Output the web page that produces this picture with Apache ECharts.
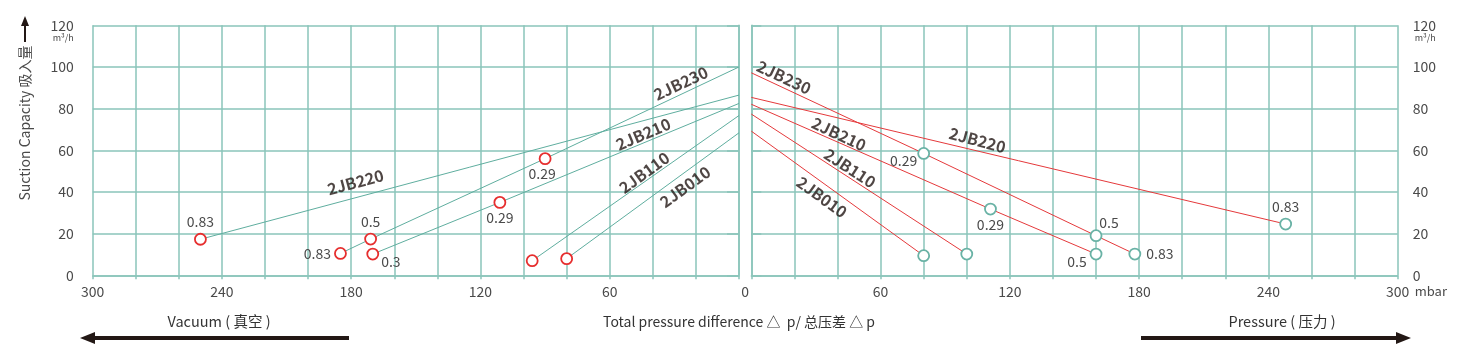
<!DOCTYPE html>
<html><head><meta charset="utf-8">
<script src="https://cdn.jsdelivr.net/npm/echarts@6/dist/echarts.min.js"></script>
<style>html,body{margin:0;padding:0;background:#fff;}#c{width:1460px;height:356px;}</style>
</head><body><div id="c"></div>
<script>
// ---- data ----
// vacuum side (left panel): [Δp mbar, capacity m³/h]
const vac230 = [[0,100],[90,56],[171,17.4],[185,10.5]];
const vac220 = [[0,86.5],[250,17.3]];
const vac210 = [[0,82.5],[111,35],[170,10.2]];
const vac110 = [[0,76.7],[96,7]];
const vac010 = [[0,68.4],[80,8]];
const vacPoints = [[90,56],[171,17.4],[185,10.5],[250,17.3],[111,35],[170,10.2],[96,7],[80,8]];
const vacPointLabels = ['0.29','0.5','0.83','0.83','0.29','0.3','',''];
// pressure side (right panel)
const press230 = [[0,97.2],[80,58.5],[160,19],[178,10.2]];
const press220 = [[0,85.4],[248,24.6]];
const press210 = [[0,82.1],[111,31.8],[160,10.2]];
const press110 = [[0,77.4],[100,10.2]];
const press010 = [[0,69.2],[80,9.4]];
const pressPoints = [[80,58.5],[160,19],[178,10.2],[248,24.6],[111,31.8],[160,10.2],[100,10.2],[80,9.4]];
const pressPointLabels = ['0.29','0.5','0.83','0.83','0.29','0.5','',''];
// model names and where they sit (data coords)
const modelNames = ['2JB230','2JB220','2JB210','2JB110','2JB010'];
const vacNameAnchors = [[27,92.2],[178,44.7],[44.5,67.8],[44,49.3],[25,42.5]];
const pressNameAnchors = [[15.2,95.1],[105,64.9],[40.7,67.8],[45.8,51.5],[32.8,37.6]];
const yTickValues = [0,20,40,60,80,100,120];
const xTickLabels = [60,120,180,240,300];

// ---- styles ----
const GRIDC = '#8ac5ba';
const TEAL = '#5fae9f';
const RED = '#e5393b';
const FONT = '"Noto Sans CJK SC","Noto Sans",sans-serif';
const TXT = '#4a4a4a';
const DARK = '#231815';
const vacNameRot = [25,15,23,36,36];
const pressNameRot = [-25,-15,-25,-33,-36];
const vacLabelPlace = [
  {position:'bottom',distance:2,offset:[-3,0]},
  {position:'top',distance:4},
  {position:'left',distance:3},
  {position:'top',distance:4},
  {position:'bottom',distance:2},
  {position:'right',distance:2,offset:[0,8]},
  {},{}
];
const pressLabelPlace = [
  {position:'left',distance:0,offset:[0,7]},
  {position:'top',distance:4,offset:[13,4]},
  {position:'right',distance:5},
  {position:'top',distance:4},
  {position:'bottom',distance:2},
  {position:'left',distance:3,offset:[0,8]},
  {},{}
];

const chart = echarts.init(document.getElementById('c'), null, {renderer:'canvas'});

function xAxisCfg(gi, inverse){
  return {
    type:'value', gridIndex:gi, min:0, max:300, interval:20, inverse:inverse,
    axisLine:{show:true, lineStyle:{color:GRIDC, width:1.5}},
    axisTick:{show:true, length:4, lineStyle:{color:GRIDC, width:1.5}},
    splitLine:{show:true, lineStyle:{color:GRIDC, width:1.5}},
    axisLabel:{color:TXT, fontSize:14, fontFamily:FONT, margin:9,
      formatter:v => xTickLabels.indexOf(v) >= 0 ? String(v) : ''}
  };
}
function yAxisCfg(gi, pos, tickLen, margin){
  return {
    type:'value', gridIndex:gi, min:0, max:120, interval:20, position:pos,
    axisLine:{show:true, lineStyle:{color:GRIDC, width:1.5}},
    axisTick:{show:true, length:tickLen, lineStyle:{color:GRIDC, width:1.5}},
    splitLine:{show:true, lineStyle:{color:GRIDC, width:1.5}},
    axisLabel:{color:TXT, fontSize:14, fontFamily:FONT, margin:margin,
      formatter:v => yTickValues.indexOf(v) >= 0 ? String(v) : ''}
  };
}
function lineSeries(data, gi, color){
  return {type:'line', xAxisIndex:gi, yAxisIndex:gi, data:data, showSymbol:false,
    symbol:'none', lineStyle:{color:color, width:1}, z:3, silent:true};
}
function circleSeries(points, labels, places, gi, stroke){
  return {type:'scatter', xAxisIndex:gi, yAxisIndex:gi, symbolSize:11, z:5, silent:true,
    itemStyle:{color:'#fff', borderColor:stroke, borderWidth:1.8, opacity:1},
    data: points.map((p,i)=>({value:p, label:Object.assign({show:labels[i]!=='', formatter:labels[i],
      color:TXT, fontSize:14, fontFamily:FONT}, places[i])}))};
}
function nameSeries(anchors, rots, gi){
  return {type:'scatter', xAxisIndex:gi, yAxisIndex:gi, symbolSize:0, z:6, silent:true,
    data: anchors.map((p,i)=>({value:p, label:{show:true, formatter:modelNames[i], rotate:rots[i],
      position:'inside', align:'center', verticalAlign:'middle',
      color:DARK, fontSize:16, fontWeight:'bold', fontFamily:FONT}}))};
}

const series = [];
[vac230,vac220,vac210,vac110,vac010].forEach(d=>series.push(lineSeries(d,0,TEAL)));
[press230,press220,press210,press110,press010].forEach(d=>series.push(lineSeries(d,1,RED)));
series.push(circleSeries(vacPoints, vacPointLabels, vacLabelPlace, 0, '#e62e2e'));
series.push(circleSeries(pressPoints, pressPointLabels, pressLabelPlace, 1, '#69b2a5'));
series.push(nameSeries(vacNameAnchors, vacNameRot, 0));
series.push(nameSeries(pressNameAnchors, pressNameRot, 1));

chart.setOption({
  animation:false,
  backgroundColor:'#fff',
  textStyle:{fontFamily:FONT},
  grid:[
    {left:92.7, top:25.3, width:646.3, height:250},
    {left:751.3, top:25.3, width:646.4, height:250}
  ],
  xAxis:[xAxisCfg(0,true), xAxisCfg(1,false)],
  yAxis:[yAxisCfg(0,'left',12,19), yAxisCfg(1,'right',10,15)],
  series:series
});

// annotations (texts / arrows)
const g = [];
g.push({type:'line', shape:{x1:25,y1:42,x2:25,y2:24}, style:{stroke:DARK, lineWidth:2}});
g.push({type:'polygon', shape:{points:[[25,16],[21,26],[29,26]]}, style:{fill:DARK}});
g.push({type:'text', x:25, y:123, rotation:Math.PI/2,
  style:{text:'Suction Capacity 吸入量', align:'center', verticalAlign:'middle', fontSize:14, fontFamily:FONT, fill:TXT}});
const p0L = chart.convertToPixel({xAxisIndex:0, yAxisIndex:0}, [0,0]);
const p0R = chart.convertToPixel({xAxisIndex:1, yAxisIndex:1}, [0,0]);
const p120L = chart.convertToPixel({xAxisIndex:0, yAxisIndex:0}, [300,120]);
const p120R = chart.convertToPixel({xAxisIndex:1, yAxisIndex:1}, [300,120]);
g.push({type:'text', x:(p0L[0]+p0R[0])/2, y:p0L[1]+9,
  style:{text:'0', align:'center', verticalAlign:'top', fontSize:14, fontFamily:FONT, fill:TXT}});
g.push({type:'text', x:p120R[0]+17, y:p0R[1]+16,
  style:{text:'mbar', align:'left', verticalAlign:'middle', fontSize:13, fontFamily:FONT, fill:TXT}});
g.push({type:'text', x:p120L[0]-19, y:p120L[1]+12,
  style:{text:'m³/h', align:'right', verticalAlign:'middle', fontSize:9, fontFamily:FONT, fill:TXT}});
g.push({type:'text', x:p120R[0]+17, y:p120R[1]+12,
  style:{text:'m³/h', align:'left', verticalAlign:'middle', fontSize:9, fontFamily:FONT, fill:TXT}});
g.push({type:'text', x:219, y:321, style:{text:'Vacuum ( 真空 )', align:'center', verticalAlign:'middle', fontSize:14.5, fontFamily:FONT, fill:'#333'}});
g.push({type:'text', x:739, y:322, style:{text:'Total pressure difference △  p/ 总压差 △ p', align:'center', verticalAlign:'middle', fontSize:14, fontFamily:FONT, fill:'#333'}});
g.push({type:'text', x:1282, y:321, style:{text:'Pressure ( 压力 )', align:'center', verticalAlign:'middle', fontSize:14.5, fontFamily:FONT, fill:'#333'}});
g.push({type:'line', shape:{x1:349,y1:338,x2:92,y2:338}, style:{stroke:DARK, lineWidth:4}});
g.push({type:'polygon', shape:{points:[[80,338],[95,332],[95,344]]}, style:{fill:DARK}});
g.push({type:'line', shape:{x1:1141,y1:338,x2:1398,y2:338}, style:{stroke:DARK, lineWidth:4}});
g.push({type:'polygon', shape:{points:[[1411,338],[1396,332],[1396,344]]}, style:{fill:DARK}});
chart.setOption({graphic:g});
</script></body></html>
